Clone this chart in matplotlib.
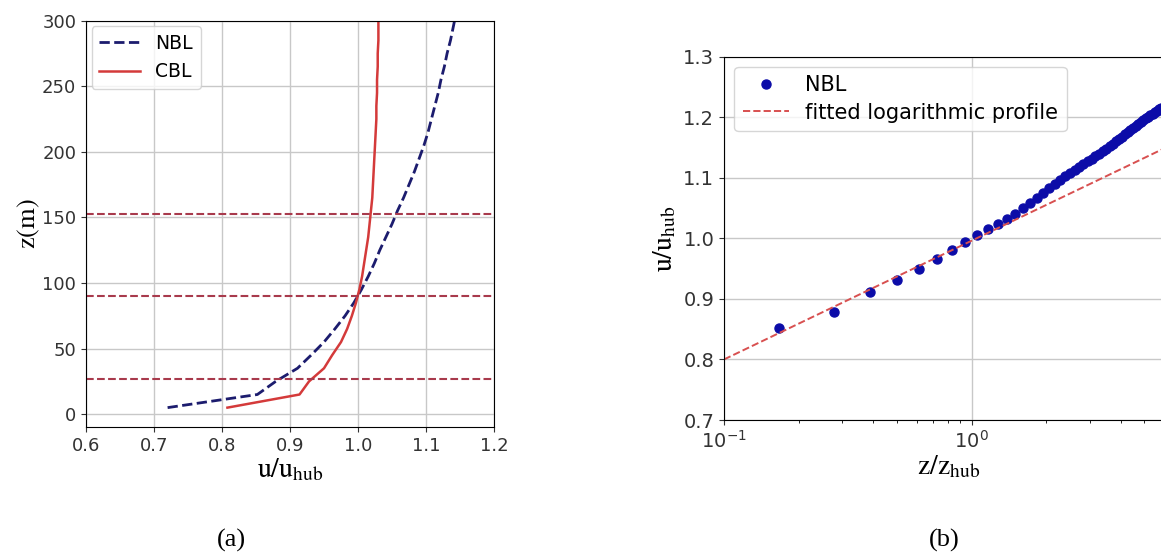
import numpy as np
import matplotlib
matplotlib.use("Agg")
import matplotlib.pyplot as plt

plt.rcParams['mathtext.fontset'] = 'stix'

# heights (m) of the profile samples
z_m = [5, 15, 25, 35, 45, 55, 65, 75, 85, 95, 105, 115, 125, 135, 145, 155,
       165, 175, 185, 195, 205, 215, 225, 235, 245, 255, 265, 275, 285, 295,
       305, 315, 325, 335, 345, 355, 365, 375, 385, 395, 405, 415, 425, 435,
       445, 455, 465, 475, 485, 495, 505, 515, 525]

# u/u_hub, neutral boundary layer
u_nbl = [0.720, 0.852, 0.879, 0.911, 0.931, 0.950, 0.966, 0.981, 0.994, 1.005,
         1.015, 1.024, 1.032, 1.041, 1.050, 1.058, 1.067, 1.075, 1.083, 1.090,
         1.097, 1.103, 1.108, 1.113, 1.118, 1.122, 1.127, 1.131, 1.136, 1.140,
         1.144, 1.148, 1.152, 1.156, 1.160, 1.164, 1.168, 1.172, 1.176, 1.179,
         1.183, 1.186, 1.189, 1.192, 1.195, 1.198, 1.201, 1.204, 1.206, 1.209,
         1.211, 1.213, 1.216]

# u/u_hub, convective boundary layer (first 31 heights)
u_cbl = [0.808, 0.914, 0.928, 0.950, 0.962, 0.975, 0.984, 0.991, 0.997, 1.002,
         1.006, 1.009, 1.012, 1.015, 1.017, 1.019, 1.021, 1.022, 1.023, 1.024,
         1.025, 1.026, 1.027, 1.027, 1.028, 1.028, 1.029, 1.029, 1.030, 1.030,
         1.030]

z_hub = 90.0
rotor_levels = [27, 90, 153]   # bottom tip, hub, top tip

# fitted log profile u/u_hub = a + b*log10(z/z_hub)
fit_a = 0.996
fit_b = 0.196

W, H = 1161, 558
fig = plt.figure(figsize=(W / 100, H / 100), dpi=100)

# ---- (a) velocity profiles ----
ax1 = fig.add_axes([86 / W, 1 - 427.3 / H, 408 / W, 406.6 / H])
ax1.plot(u_nbl, z_m, '--', color='#1c1c6e', lw=2, label='NBL')
ax1.plot(u_cbl, z_m[:len(u_cbl)], '-', color='#d43a3a', lw=1.8, label='CBL')
for zl in rotor_levels:
    ax1.axhline(zl, color='#a83a4c', ls='--', lw=1.5)
ax1.set_xlim(0.6, 1.2)
ax1.set_ylim(-10, 300)
ax1.set_xticks(np.arange(0.6, 1.21, 0.1))
ax1.set_yticks(np.arange(0, 301, 50))
ax1.set_xticklabels(['0.6', '0.7', '0.8', '0.9', '1.0', '1.1', '1.2'])
ax1.grid(True, color='#c8c8c8', lw=1)
ax1.tick_params(labelsize=13, colors='#333333')
ax1.set_xlabel(r'$\mathrm{u/u_{hub}}$', fontsize=20, labelpad=0)
ax1.set_ylabel(r'$\mathrm{z(m)}$', fontsize=19, labelpad=0)
ax1.legend(loc='upper left', fontsize=13.5, handlelength=2.2, borderaxespad=0.3)

# ---- (b) log-law fit ----
x_r = 6.5
ax2 = fig.add_axes([724 / W, 1 - 420 / H, (np.log10(x_r) + 1) * 247.5 / W, 363.3 / H])
zz = np.array(z_m) / z_hub
ax2.plot(zz[1:], u_nbl[1:], 'o', color='#0c0ca8', ms=6.5, label='NBL')
x_fit = np.array([0.1, x_r])
ax2.plot(x_fit, fit_a + fit_b * np.log10(x_fit), '--', color='#d85050', lw=1.4,
         label='fitted logarithmic profile')
ax2.set_xscale('log')
ax2.set_xlim(0.1, x_r)
ax2.set_ylim(0.7, 1.3)
ax2.set_yticks(np.arange(0.7, 1.31, 0.1))
ax2.set_yticklabels(['0.7', '0.8', '0.9', '1.0', '1.1', '1.2', '1.3'])
ax2.grid(True, which='major', color='#c8c8c8', lw=1)
ax2.tick_params(labelsize=14, colors='#333333')
ax2.set_xlabel(r'$\mathrm{z/z_{hub}}$', fontsize=20, labelpad=0)
ax2.set_ylabel(r'$\mathrm{u/u_{hub}}$', fontsize=20, labelpad=4)
ax2.legend(loc='upper left', fontsize=15, handlelength=2.2, labelspacing=0.35,
           borderaxespad=0.5)

fig.text(231 / W, 1 - 540 / H, '(a)', fontsize=19, family='Liberation Serif',
         ha='center', va='center')
fig.text(944 / W, 1 - 540 / H, '(b)', fontsize=19, family='Liberation Serif',
         ha='center', va='center')

fig.savefig('out.png', dpi=100)
